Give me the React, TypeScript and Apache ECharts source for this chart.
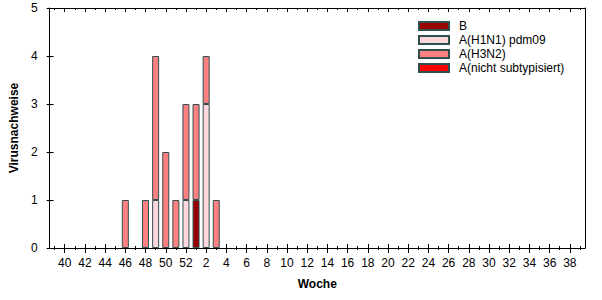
import React, { useEffect, useRef } from "react";
import * as echarts from "echarts";

// Category axis: one leading empty slot, then weeks 40..52 and 1..39
const weeks = [
  "", "40", "41", "42", "43", "44", "45", "46", "47", "48", "49", "50", "51", "52",
  "1", "2", "3", "4", "5", "6", "7", "8", "9", "10", "11", "12", "13", "14", "15",
  "16", "17", "18", "19", "20", "21", "22", "23", "24", "25", "26", "27", "28", "29",
  "30", "31", "32", "33", "34", "35", "36", "37", "38", "39",
];

// Weeks with detections and counts per virus type
const dataWeeks = ["46", "48", "49", "50", "51", "52", "1", "2", "3"];
const bValues = [0, 0, 0, 0, 0, 0, 1, 0, 0];
const h1n1Values = [0, 0, 1, 0, 0, 1, 0, 3, 0];
const h3n2Values = [1, 1, 3, 2, 1, 2, 2, 1, 1];
const nichtValues = [0, 0, 0, 0, 0, 0, 0, 0, 0];

const yTicks = [0, 1, 2, 3, 4, 5];

const FONT = "'Liberation Sans', Arial, sans-serif";
const BORDER = "#2f4f4f";

function toSeries(values: number[]) {
  return weeks.map((w) => {
    const i = dataWeeks.indexOf(w);
    return i >= 0 && values[i] > 0 ? values[i] : null;
  });
}

const oddIdx = (index: number) => index % 2 === 1;

export default function App() {
  const ref = useRef<HTMLDivElement>(null);
  useEffect(() => {
    if (!ref.current) return;
    const chart = echarts.init(ref.current, null, { renderer: "svg" });
    const baseX = {
      type: "category" as const,
      data: weeks,
      boundaryGap: true,
      axisLine: { show: false },
      axisLabel: { show: false },
      splitLine: { show: false },
    };
    const tickStyle = { color: "#000", width: 1 };
    const mk = (name: string, values: number[], color: string) => ({
      name,
      type: "bar",
      stack: "total",
      xAxisIndex: 0,
      yAxisIndex: 0,
      barWidth: 7,
      data: toSeries(values),
      itemStyle: { color, borderColor: BORDER, borderWidth: 1 },
    });
    chart.setOption({
      animation: false,
      backgroundColor: "#fff",
      textStyle: { fontFamily: FONT },
      grid: { left: 48, right: 17, top: 8, bottom: 52, containLabel: false },
      legend: {
        orient: "vertical",
        left: 413,
        top: 14,
        itemWidth: 30,
        itemHeight: 8,
        itemGap: 0,
        icon: "rect",
        textStyle: {
          fontFamily: FONT,
          fontSize: 12,
          color: "#000",
          lineHeight: 14,
          padding: [0, 0, 0, 5],
        },
        data: ["B", "A(H1N1) pdm09", "A(H3N2)", "A(nicht subtypisiert)"],
      },
      xAxis: [
        {
          ...baseX,
          position: "bottom",
          axisLine: { show: true, lineStyle: { color: "#000", width: 1 } },
          axisTick: {
            show: true,
            alignWithLabel: true,
            interval: 0,
            inside: false,
            length: 2,
            lineStyle: tickStyle,
          },
          axisLabel: {
            show: true,
            interval: oddIdx,
            fontFamily: FONT,
            fontSize: 12,
            color: "#000",
            margin: 9,
          },
          name: "Woche",
          nameLocation: "middle",
          nameGap: 30,
          nameTextStyle: {
            fontFamily: FONT,
            fontSize: 12,
            fontWeight: "bold",
            color: "#000",
          },
        },
        {
          ...baseX,
          position: "bottom",
          axisTick: {
            show: true,
            alignWithLabel: true,
            interval: oddIdx,
            inside: false,
            length: 5,
            lineStyle: tickStyle,
          },
        },
        {
          ...baseX,
          position: "bottom",
          axisTick: {
            show: true,
            alignWithLabel: true,
            interval: 0,
            inside: true,
            length: 2,
            lineStyle: tickStyle,
          },
        },
        {
          ...baseX,
          position: "bottom",
          axisTick: {
            show: true,
            alignWithLabel: true,
            interval: oddIdx,
            inside: true,
            length: 4,
            lineStyle: tickStyle,
          },
        },
        {
          ...baseX,
          position: "top",
          axisLine: { show: true, lineStyle: { color: "#000", width: 1 } },
          axisTick: {
            show: true,
            alignWithLabel: true,
            interval: 0,
            inside: true,
            length: 2,
            lineStyle: tickStyle,
          },
        },
        {
          ...baseX,
          position: "top",
          axisTick: {
            show: true,
            alignWithLabel: true,
            interval: oddIdx,
            inside: true,
            length: 4,
            lineStyle: tickStyle,
          },
        },
      ],
      yAxis: [
        {
          type: "value",
          position: "left",
          min: yTicks[0],
          max: yTicks[yTicks.length - 1],
          interval: 1,
          axisLine: { show: true, lineStyle: { color: "#000", width: 1 } },
          axisTick: { show: true, inside: false, length: 3, lineStyle: tickStyle },
          axisLabel: {
            fontFamily: FONT,
            fontSize: 12,
            color: "#000",
            margin: 12,
          },
          splitLine: { show: false },
          name: "Virusnachweise",
          nameLocation: "middle",
          nameGap: 27,
          nameTextStyle: {
            fontFamily: FONT,
            fontSize: 12,
            fontWeight: "bold",
            color: "#000",
          },
        },
        {
          type: "value",
          position: "left",
          min: yTicks[0],
          max: yTicks[yTicks.length - 1],
          interval: 1,
          axisLine: { show: false },
          axisTick: { show: true, inside: true, length: 4, lineStyle: tickStyle },
          axisLabel: { show: false },
          splitLine: { show: false },
        },
        {
          type: "value",
          position: "right",
          min: yTicks[0],
          max: yTicks[yTicks.length - 1],
          interval: 1,
          axisLine: { show: true, lineStyle: { color: "#000", width: 1 } },
          axisTick: { show: false },
          axisLabel: { show: false },
          splitLine: { show: false },
        },
      ],
      series: [
        mk("B", bValues, "#990000"),
        mk("A(H1N1) pdm09", h1n1Values, "#ffd6dc"),
        mk("A(H3N2)", h3n2Values, "#ff8080"),
        mk("A(nicht subtypisiert)", nichtValues, "#ff0000"),
      ],
    });
    return () => chart.dispose();
  }, []);
  return (
    <div
      ref={ref}
      style={{ width: 602, height: 300, position: "absolute", left: 0, top: 0 }}
    />
  );
}
